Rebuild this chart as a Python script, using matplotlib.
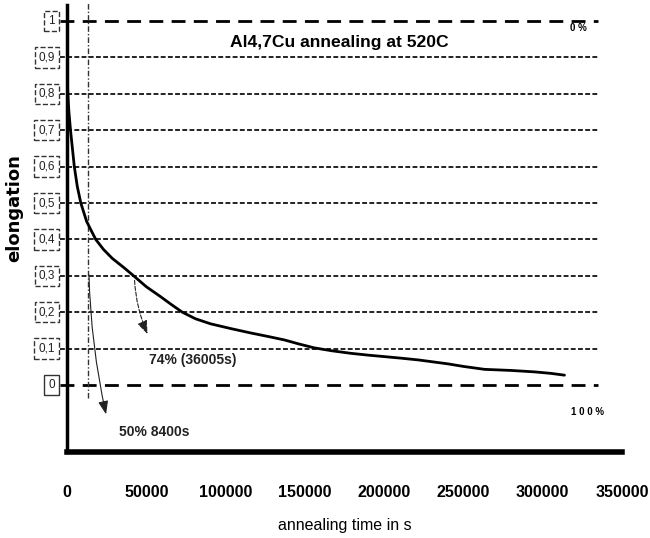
import matplotlib
matplotlib.use("Agg")
import matplotlib.pyplot as plt
from matplotlib import font_manager

names = {f.name for f in font_manager.fontManager.ttflist}
NARROW = 'Liberation Sans Narrow' if 'Liberation Sans Narrow' in names else 'Liberation Sans'
plt.rcParams['font.family'] = [NARROW, 'DejaVu Sans']

# ---- data ----
time_s = [0, 500, 1200, 2200, 3400, 4600, 6500, 8700, 12400, 18100, 22900, 28500,
          36000, 42000, 50000, 58900, 65500, 72700, 81000, 90600, 103300, 115800,
          126000, 136900, 146000, 155900, 167000, 179100, 190000, 200000, 210000,
          221300, 230000, 240300, 250000, 263300, 280000, 295000, 305000, 313700]
elongation = [0.87, 0.80, 0.75, 0.70, 0.65, 0.60, 0.545, 0.50, 0.449, 0.40, 0.373, 0.348,
              0.322, 0.300, 0.270, 0.243, 0.222, 0.200, 0.182, 0.168, 0.155, 0.143,
              0.134, 0.124, 0.113, 0.102, 0.094, 0.087, 0.082, 0.078, 0.074,
              0.069, 0.064, 0.058, 0.051, 0.043, 0.040, 0.036, 0.032, 0.027]
grid_levels = [0, 0.1, 0.2, 0.3, 0.4, 0.5, 0.6, 0.7, 0.8, 0.9, 1.0]
ytick_labels = ['0', '0,1', '0,2', '0,3', '0,4', '0,5', '0,6', '0,7', '0,8', '0,9', '1']
xticks = [0, 50000, 100000, 150000, 200000, 250000, 300000, 350000]
marker_time = 13500
title = 'Al4,7Cu annealing at 520C'

fig = plt.figure(figsize=(6.5, 5.38), dpi=100)
ax = fig.add_axes([0.1031, 0.1599, 0.8539, 0.8308])
ax.set_xlim(0, 350000)
ax.set_ylim(-0.184, 1.044)

for s in ['top', 'right']:
    ax.spines[s].set_visible(False)
ax.spines['left'].set_linewidth(2.5)
ax.spines['bottom'].set_linewidth(4)

# horizontal reference lines
for lv in grid_levels:
    if lv in (0, 1.0):
        ax.plot([-4500, 335000], [lv, lv], color='black', lw=2.0,
                dashes=(5, 3), clip_on=False, zorder=2)
    else:
        ax.plot([-4500, 335000], [lv, lv], color='#222222', lw=1.4,
                dashes=(2.5, 1.2), clip_on=False, zorder=2)

# vertical marker line
ax.plot([marker_time, marker_time], [-0.035, 1.05], color='#333333', lw=1.0,
        dashes=(4, 1.5, 1, 1.5), clip_on=False, zorder=2)

# curve
ax.plot(time_s, elongation, color='black', lw=2.0, zorder=4,
        solid_joinstyle='round', solid_capstyle='round')

# ticks
ax.set_yticks(grid_levels)
ax.set_yticklabels([])
ax.tick_params(axis='y', length=0)
for lv, lab in zip(grid_levels, ytick_labels):
    ls = '-' if lab == '0' else '--'
    ax.text(-7500, lv, lab, ha='right', va='center', fontsize=8.5, color='#222222',
            bbox=dict(boxstyle='square,pad=0.35', fc='white', ec='#333333',
                      lw=1.0, ls=ls))

ax.set_xticks(xticks)
ax.set_xticklabels([str(t) for t in xticks], fontsize=11.5, fontweight='bold')
ax.tick_params(axis='x', length=0, pad=24)

ax.set_ylabel('elongation', fontsize=13, fontweight='bold', fontfamily=['DejaVu Sans'])
ax.yaxis.set_label_coords(-0.078, 0.546)
ax.set_xlabel('annealing time in s', fontsize=11.5, labelpad=13)

ax.text(171500, 0.94, title, ha='center', va='center', fontsize=12.6, fontweight='bold')
ax.text(322200, 0.98, '0 %', ha='center', va='center', fontsize=7, fontweight='bold')
ax.text(327900, -0.074, '1 0 0 %', ha='center', va='center', fontsize=7, fontweight='bold')

# annotations
ax.annotate('', xy=(51500, 0.133), xytext=(42500, 0.295),
            arrowprops=dict(arrowstyle='-|>,head_length=0.8,head_width=0.3', color='#222222',
                            lw=0.8, ls='--', connectionstyle='arc3,rad=0.1'), zorder=5)
ax.text(51400, 0.069, '74% (36005s)', ha='left', va='center', fontsize=10, fontweight='bold',
        color='#222222')
ax.annotate('', xy=(25000, -0.088), xytext=(13800, 0.31),
            arrowprops=dict(arrowstyle='-|>,head_length=0.8,head_width=0.3', color='#222222',
                            lw=0.8, connectionstyle='arc3,rad=0.05'), zorder=5)
ax.text(32500, -0.13, '50% 8400s', ha='left', va='center', fontsize=10, fontweight='bold',
        color='#222222')

fig.savefig('out.png', dpi=100)
